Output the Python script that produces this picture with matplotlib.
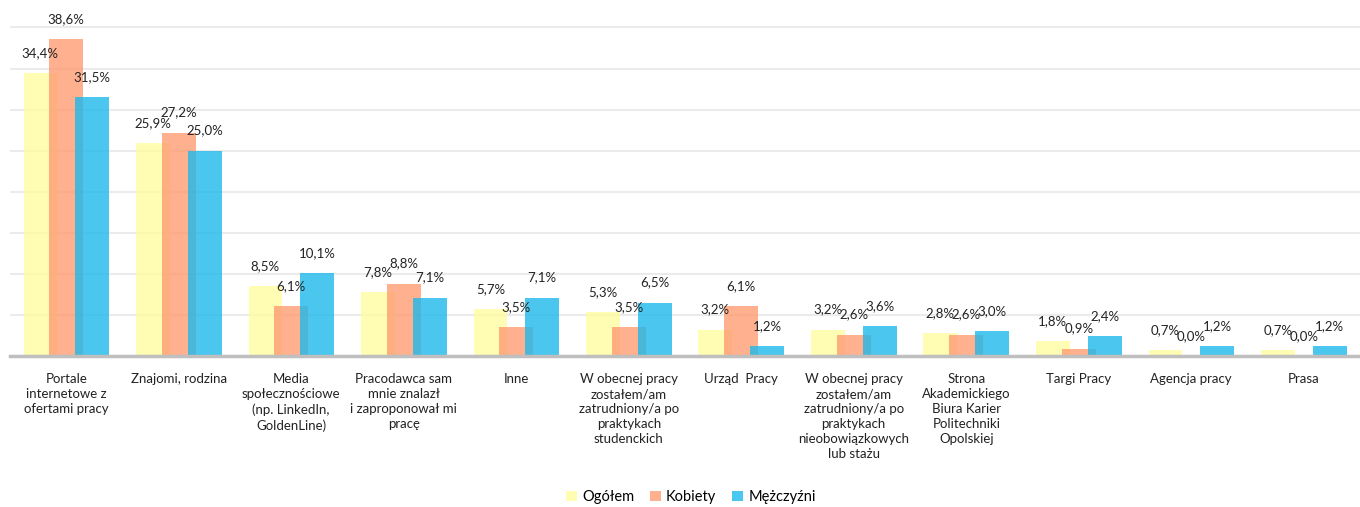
import matplotlib
matplotlib.use("Agg")
import matplotlib.pyplot as plt
import numpy as np
from matplotlib.patches import Patch

plt.rcParams['font.family'] = ['Lato', 'DejaVu Sans']

categories = [
    "Portale\ninternetowe z\nofertami pracy",
    "Znajomi, rodzina",
    "Media\nspołecznościowe\n(np. LinkedIn,\nGoldenLine)",
    "Pracodawca sam\nmnie znalazł\ni zaproponował mi\npracę",
    "Inne",
    "W obecnej pracy\nzostałem/am\nzatrudniony/a po\npraktykach\nstudenckich",
    "Urząd  Pracy",
    "W obecnej pracy\nzostałem/am\nzatrudniony/a po\npraktykach\nnieobowiązkowych\nlub stażu",
    "Strona\nAkademickiego\nBiura Karier\nPolitechniki\nOpolskiej",
    "Targi Pracy",
    "Agencja pracy",
    "Prasa",
]
ogolem = [34.4, 25.9, 8.5, 7.8, 5.7, 5.3, 3.2, 3.2, 2.8, 1.8, 0.7, 0.7]
kobiety = [38.6, 27.2, 6.1, 8.8, 3.5, 3.5, 6.1, 2.6, 2.6, 0.9, 0.0, 0.0]
mezczyzni = [31.5, 25.0, 10.1, 7.1, 7.1, 6.5, 1.2, 3.6, 3.0, 2.4, 1.2, 1.2]
series_names = ["Ogółem", "Kobiety", "Mężczyźni"]
colors = ["#FFFCA0", "#FF9C72", "#1DB8EC"]

fig = plt.figure(figsize=(13.6, 5.07), dpi=100)
ax = fig.add_axes([10/1360, 1 - 356/507, 1350/1360, (356-11)/507])

x = np.arange(len(categories))
offs = [-0.23, 0.0, 0.23]
w = 0.30
for vals, off, col in zip([ogolem, kobiety, mezczyzni], offs, colors):
    ax.bar(x + off, vals, width=w, color=col, alpha=0.8, zorder=2, linewidth=0)
    for xi, v in zip(x, vals):
        ax.annotate(f"{v:.1f}%".replace(".", ","), (xi + off, v), xytext=(0, 14.5),
                    textcoords="offset points", ha="center", va="center",
                    fontsize=9.5, color="#222222", annotation_clip=False)

ax.set_xlim(-0.5, len(categories) - 0.5)
ax.set_ylim(0, 42)
ax.set_yticks(np.arange(5, 41, 5))
ax.yaxis.grid(True, color="#EBEBEB", linewidth=1.5, zorder=0)
ax.set_axisbelow(True)
ax.tick_params(axis="y", left=False, labelleft=False)
ax.tick_params(axis="x", bottom=False, pad=9)
ax.set_xticks(x)
ax.set_xticklabels(categories, fontsize=9.5, color="#222222", linespacing=1.3, va="top")
for s in ["top", "right", "left"]:
    ax.spines[s].set_visible(False)
ax.spines["bottom"].set_color("#BFBFBF")
ax.spines["bottom"].set_linewidth(2.5)

handles = [Patch(facecolor=c, alpha=0.8, edgecolor="none") for c in colors]
fig.legend(handles, series_names, loc="center", bbox_to_anchor=(0.508, 1 - 497/507),
           ncol=3, frameon=False, fontsize=10.5, handlelength=0.75, handleheight=0.75,
           handletextpad=0.35, columnspacing=1.1)

fig.savefig("out.png", dpi=100)
